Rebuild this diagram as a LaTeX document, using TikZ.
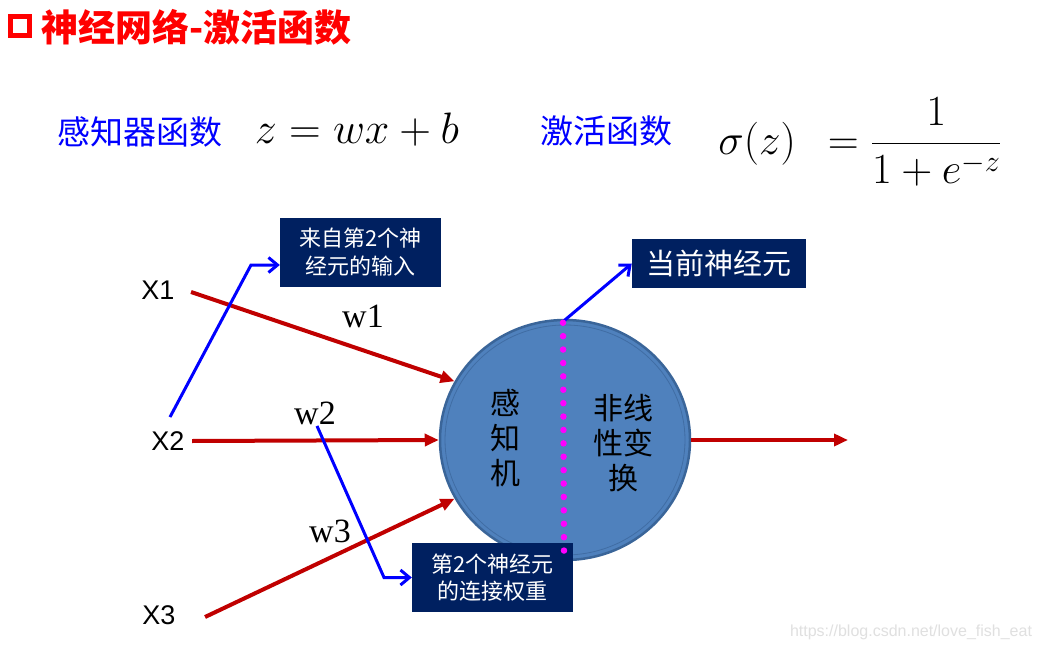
\RequirePackage{fix-cm}
\documentclass[tikz,border=0pt]{standalone}
\usepackage{fontspec}
\usepackage{amsmath}
\usetikzlibrary{arrows.meta,shapes.geometric,calc}
\newfontfamily\cjk{Noto Sans CJK SC}
\newfontfamily\arialf{Liberation Sans}
\newfontfamily\tnrf{Liberation Serif}
\definecolor{navy}{HTML}{002060}
\definecolor{dred}{HTML}{C00000}
\definecolor{nblue}{HTML}{0000FF}
\definecolor{cfill}{HTML}{4F81BD}
\definecolor{cedge}{HTML}{3A6599}
\definecolor{mag}{HTML}{FF00FF}
\tikzset{
  redarrow/.style={draw=dred, line width=4pt, -{Triangle[length=14pt,width=12pt]}},
  bluearrow/.style={draw=nblue, line width=3pt, -{Straight Barb[length=9pt,width=15pt]}},
  navybox/.style={fill=navy, text=white, align=center, inner sep=0pt},
  xlabel/.style={font=\arialf\fontsize{27}{30}\selectfont},
  wlabel/.style={font=\tnrf\fontsize{34}{38}\selectfont},
  bluetext/.style={text=nblue, font=\cjk\fontsize{33}{36}\selectfont},
  cirtext/.style={align=center, font=\cjk\fontsize{30}{35}\selectfont},
}
\begin{document}
\begin{tikzpicture}[x=1pt,y=-1pt]
\path[use as bounding box, fill=white] (0,0) rectangle (1041,650);
% title
\node[draw=red, line width=5.5pt, minimum size=19pt, inner sep=0pt] (sq) at (20,26) {};
\node[anchor=west, text=red, inner sep=0pt, font=\cjk\bfseries\fontsize{37}{40}\selectfont] (title) at (41,27) {神经网络-激活函数};
% formulas
\node[bluetext] (perc) at (140,132) {感知器函数};
\node (zeq) at (357,130) {\fontsize{44}{50}\selectfont $z = wx + b$};
\node[bluetext] (act) at (606,131) {激活函数};
\node (sig) at (860,142) {\fontsize{43}{50}\selectfont $\sigma(z)\ \,= \dfrac{1}{1+e^{-z}}$};
% neuron
\node[ellipse, minimum width=250pt, minimum height=240pt, fill=cfill, draw=cedge, line width=2.5pt] (neuron) at (565,440) {};
\draw[cedge!70!cfill, line width=0.8pt] (neuron.center) ellipse [x radius=120, y radius=115];
\node[cirtext] (perctext) at (505,438) {感\\知\\机};
\node[cirtext] (nltext) at (623,443) {非线\\性变\\换};
% inputs
\node[xlabel] (X1) at (158,290) {X1};
\node[xlabel] (X2) at (168,441) {X2};
\node[xlabel] (X3) at (159,615) {X3};
\node[wlabel] (w1) at (363,316) {w1};
\node[wlabel] (w2) at (315,413) {w2};
\node[wlabel] (w3) at (330,531) {w3};
\coordinate (out) at (848,440);
\draw[redarrow] ([xshift=13pt,yshift=-2pt]X1.east) -- (neuron.152);
\draw[redarrow] ([xshift=4pt]X2.east) -- (neuron.west);
\draw[redarrow] ([xshift=26pt,yshift=-2pt]X3.east) -- (neuron.208);
\draw[redarrow] (neuron.east) -- (out);
% boxes
\node[navybox, minimum width=161pt, minimum height=69pt, font=\cjk\fontsize{22}{28}\selectfont] (inbox) at (360.5,252.5) {来自第2个神\\经元的输入};
\node[navybox, minimum width=174pt, minimum height=49pt, font=\cjk\fontsize{29}{34}\selectfont] (cur) at (719,263.5) {当前神经元};
\node[navybox, minimum width=161pt, minimum height=69pt, font=\cjk\fontsize{22}{27}\selectfont] (wbox) at (492.5,577.5) {第2个神经元\\的连接权重};
% blue arrows
\coordinate (b1) at (251,265);
\coordinate (b2) at (384,577.5);
\draw[bluearrow] ([xshift=2pt,yshift=11pt]X2.north) -- (b1) -- (b1 -| inbox.west);
\draw[bluearrow] ([xshift=2pt,yshift=2pt]w2.south) -- (b2) -- (wbox.west);
\draw[bluearrow] ([xshift=-1pt,yshift=-2pt]neuron.north) -- (cur.west);
% dotted divider
\draw[mag, line width=6.5pt, line cap=round, dash pattern=on 0pt off 13.4pt] ([xshift=-2pt,yshift=-4pt]neuron.north) -- ([xshift=-1pt,yshift=8pt]neuron.south);
% watermark
\node[text=black!12, font=\arialf\fontsize{16}{18}\selectfont] (wm) at (911,632) {https://blog.csdn.net/love\_fish\_eat};
\end{tikzpicture}
\end{document}
